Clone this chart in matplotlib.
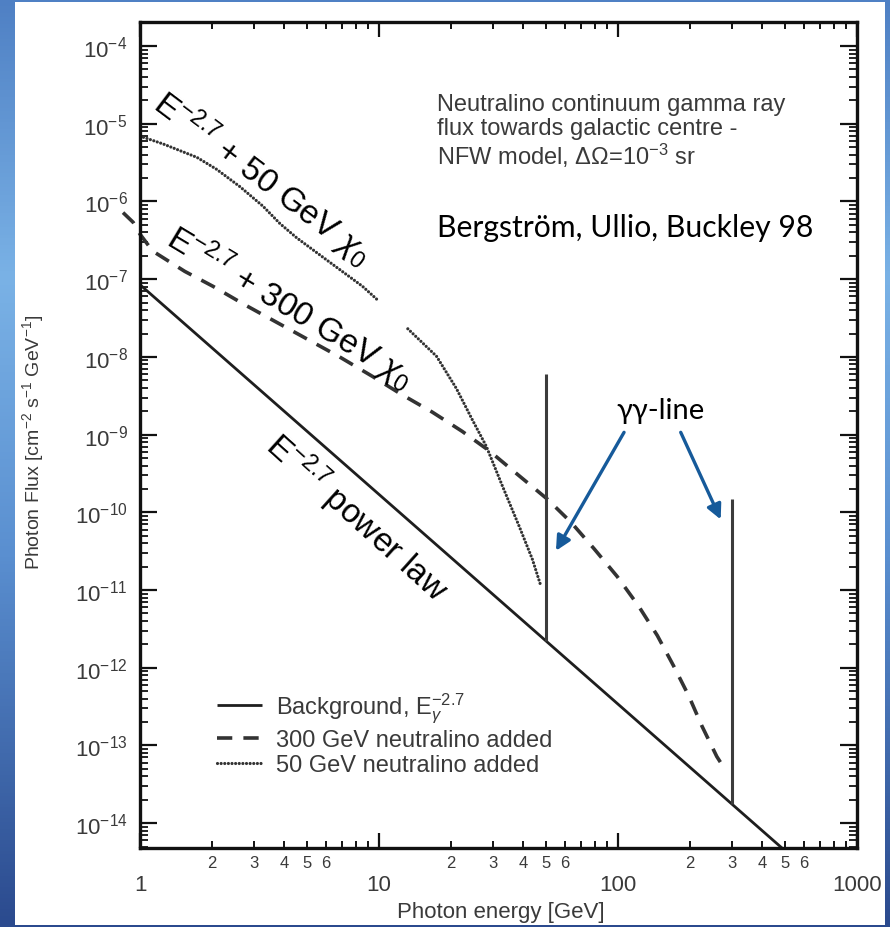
import numpy as np
import matplotlib
matplotlib.use("Agg")
import matplotlib.pyplot as plt
from matplotlib.patches import Rectangle
from matplotlib.ticker import FixedLocator, FuncFormatter, NullFormatter
from matplotlib.colors import LinearSegmentedColormap

plt.rcParams['font.family'] = ['Liberation Sans', 'DejaVu Sans']
plt.rcParams['mathtext.fontset'] = 'custom'
plt.rcParams['mathtext.rm'] = 'Liberation Sans'
plt.rcParams['mathtext.it'] = 'Liberation Sans:italic'
plt.rcParams['mathtext.bf'] = 'Liberation Sans:bold'
plt.rcParams['lines.scale_dashes'] = False

# ---- data -------------------------------------------------------------
# E^-2.7 background power law (end points)
bg_energy = [1.0, 1000.0]
bg_flux = [8.5e-8, 6.8e-16]

# background + 300 GeV neutralino continuum
chi300_energy = [0.849, 0.936, 1.0, 1.13, 1.54, 2.02, 2.74, 6.84, 9.4, 12.4,
                 16.7, 22.3, 28.9, 38.6, 50.6, 63.7, 79.4, 99.1, 122, 146,
                 171, 198, 224, 259, 269]
chi300_flux = [7.2e-7, 5.4e-7, 3.8e-7, 2.3e-7, 1.26e-7, 8.1e-8, 4.7e-8, 1.0e-8,
               5.6e-9, 3.3e-9, 1.95e-9, 1.1e-9, 6.2e-10, 2.95e-10, 1.48e-10,
               7.4e-11, 3.4e-11, 1.5e-11, 6.2e-12, 2.6e-12, 1.05e-12, 4.3e-13,
               1.8e-13, 7.2e-14, 6.0e-14]

# background + 50 GeV neutralino continuum (two pieces)
chi50_energy_low = [1.0, 1.05, 1.25, 1.73, 2.09, 2.62, 3.27, 3.85, 4.53, 6.21,
                    8.53, 10.0]
chi50_flux_low = [6.9e-6, 6.6e-6, 5.5e-6, 3.7e-6, 2.6e-6, 1.55e-6, 8.7e-7,
                  5.2e-7, 3.4e-7, 1.66e-7, 8.1e-8, 5.2e-8]
chi50_energy_high = [13.2, 17.4, 21.1, 24.5, 28.1, 32.8, 38.6, 43.8, 47.6]
chi50_flux_high = [2.3e-8, 1.02e-8, 3.9e-9, 1.58e-9, 7.1e-10, 2.2e-10,
                   6.6e-11, 2.5e-11, 1.12e-11]

# gamma-gamma lines
line_energy = [50.0, 300.0]
line_flux_base = [2.2e-12, 1.74e-14]
line_flux_peak = [6.0e-9, 1.5e-10]

legend_labels = [r"Background, E$_{\gamma}^{-2.7}$",
                 "300 GeV neutralino added",
                 "50 GeV neutralino added"]
x_major_ticks = [1, 10, 100, 1000]
x_major_labels = ["1", "10", "100", "1000"]
x_minor_labelled = [2, 3, 4, 5, 6]
y_major_exponents = list(range(-14, -3))

TXT = "#3a3a3a"
ARROW = "#165a9a"

# ---- figure & framed background ---------------------------------------
fig = plt.figure(figsize=(8.9, 9.28), dpi=100)

bg_ax = fig.add_axes([0, 0, 1, 1], zorder=-10)
grad_cmap = LinearSegmentedColormap.from_list(
    "frame", [(0.0, "#4f80c4"), (0.3, "#7ab2e6"), (0.6, "#5a8fd0"),
              (1.0, "#2b4a8e")])
bg_ax.imshow(np.linspace(0, 1, 256)[:, None], aspect="auto", cmap=grad_cmap,
             extent=[0, 1, 0, 1])
bg_ax.set_axis_off()
fig.patches.append(Rectangle((15 / 890, 2 / 928), 870 / 890, 923 / 928,
                             transform=fig.transFigure, facecolor="white",
                             edgecolor="none", zorder=-5))

ax = fig.add_axes([140 / 890, 1 - 849 / 928, 717 / 890, 826 / 928])
ax.set_facecolor("none")
ax.set_xscale("log")
ax.set_yscale("log")
ax.set_xlim(1, 1000)
ax.set_ylim(10 ** -14.32, 10 ** -3.69)

# ---- curves -----------------------------------------------------------
h_bg, = ax.plot(bg_energy, bg_flux, color="#1e1e1e", lw=2.0,
                solid_capstyle="butt")
h_300, = ax.plot(chi300_energy, chi300_flux, color="#333333", lw=2.6,
                 dashes=(11, 8), clip_on=False)
dot_kw = dict(color="#333333", lw=2.3, dashes=(0.01, 2.6),
              dash_capstyle="round", solid_joinstyle="round")
h_50, = ax.plot(chi50_energy_low, chi50_flux_low, **dot_kw)
ax.plot(chi50_energy_high, chi50_flux_high, **dot_kw)
ax.vlines(line_energy, line_flux_base, line_flux_peak, color="#3c3c3c", lw=2.2)

# ---- axes styling -----------------------------------------------------
for sp in ax.spines.values():
    sp.set_linewidth(2.4)
    sp.set_color("#111111")

ax.xaxis.set_major_locator(FixedLocator(x_major_ticks))
ax.xaxis.set_major_formatter(FuncFormatter(
    lambda v, p: x_major_labels[x_major_ticks.index(int(round(v)))]
    if int(round(v)) in x_major_ticks else ""))
minor_x = [m * 10 ** k for k in range(0, 3) for m in range(2, 10)]
ax.xaxis.set_minor_locator(FixedLocator(minor_x))


def minor_fmt(v, p):
    m = int(round(v / 10 ** np.floor(np.log10(v) + 1e-9)))
    return str(m) if m in x_minor_labelled else ""


ax.xaxis.set_minor_formatter(FuncFormatter(minor_fmt))

ax.yaxis.set_major_locator(FixedLocator([10.0 ** e for e in y_major_exponents]))
ax.yaxis.set_major_formatter(FuncFormatter(
    lambda v, p: r"$\mathdefault{10^{%d}}$" % int(round(np.log10(v)))))
minor_y = [m * 10.0 ** k for k in range(-15, -3) for m in range(2, 10)]
ax.yaxis.set_minor_locator(FixedLocator(minor_y))
ax.yaxis.set_minor_formatter(NullFormatter())

ax.tick_params(which="both", direction="in", top=True, right=True,
               colors="#111111", labelcolor=TXT)
ax.tick_params(axis="x", which="major", length=11, width=1.6, pad=19,
               labelsize=16)
ax.tick_params(axis="x", which="minor", length=5, width=1.4, pad=5,
               labelsize=12)
ax.tick_params(axis="y", which="major", length=12, width=1.6, pad=9,
               labelsize=16)
ax.tick_params(axis="y", which="minor", length=6, width=1.3)

fig.text(501 / 890, 1 - 913 / 928, "Photon energy [GeV]", ha="center",
         va="center", fontsize=16, color=TXT)
fig.text(33 / 890, 1 - 442 / 928,
         r"Photon Flux [cm$^{-2}$ s$^{-1}$ GeV$^{-1}$]", rotation=90,
         ha="center", va="center", fontsize=14, color=TXT)

# ---- legend -----------------------------------------------------------
leg = ax.legend([h_bg, h_300, h_50], legend_labels, loc="upper left",
                bbox_to_anchor=(0.107, 0.19), frameon=False, fontsize=17,
                handlelength=1.9, handletextpad=0.6, labelspacing=0.15,
                borderpad=0, borderaxespad=0)
for t in leg.get_texts():
    t.set_color(TXT)

# ---- annotations ------------------------------------------------------
info_lines = ["Neutralino continuum gamma ray",
              "flux towards galactic centre -",
              r"NFW model, ΔΩ=10$^{-3}$ sr"]
for txt, yy in zip(info_lines, [0.894, 0.864, 0.828]):
    ax.text(0.414, yy, txt, transform=ax.transAxes, fontsize=17,
            color=TXT, va="baseline")

ax.text(0.414, 0.752, "Bergström, Ullio, Buckley 98", transform=ax.transAxes,
        fontsize=21.7, color="black", va="center", ha="left",
        family=["Lato", "DejaVu Sans"])

rot_kw = dict(ha="center", va="center", rotation_mode="anchor",
              color="black", fontsize=24)
ax.text(3.26, 2.04e-6, r"E$^{-2.7}$ + 50 GeV $\chi_0$", rotation=-37, **rot_kw)
ax.text(4.23, 4.4e-8, r"E$^{-2.7}$ + 300 GeV $\chi_0$", rotation=-31, **rot_kw)
ax.text(8.05, 8.7e-11, r"E$^{-2.7}$ power law", rotation=-42, **rot_kw)

ax.text(150, 2.1e-9, "γγ-line", ha="center", va="center", fontsize=21,
        color="black", family=["Lato", "DejaVu Sans"])
arrow_kw = dict(arrowstyle="-|>", color=ARROW, lw=2.4, mutation_scale=22,
                shrinkA=0, shrinkB=0)
ax.annotate("", xy=(55, 3.2e-11), xytext=(106, 1.07e-9), arrowprops=arrow_kw)
ax.annotate("", xy=(269, 8.1e-11), xytext=(183, 1.07e-9), arrowprops=arrow_kw)

fig.savefig("out.png", dpi=100)
